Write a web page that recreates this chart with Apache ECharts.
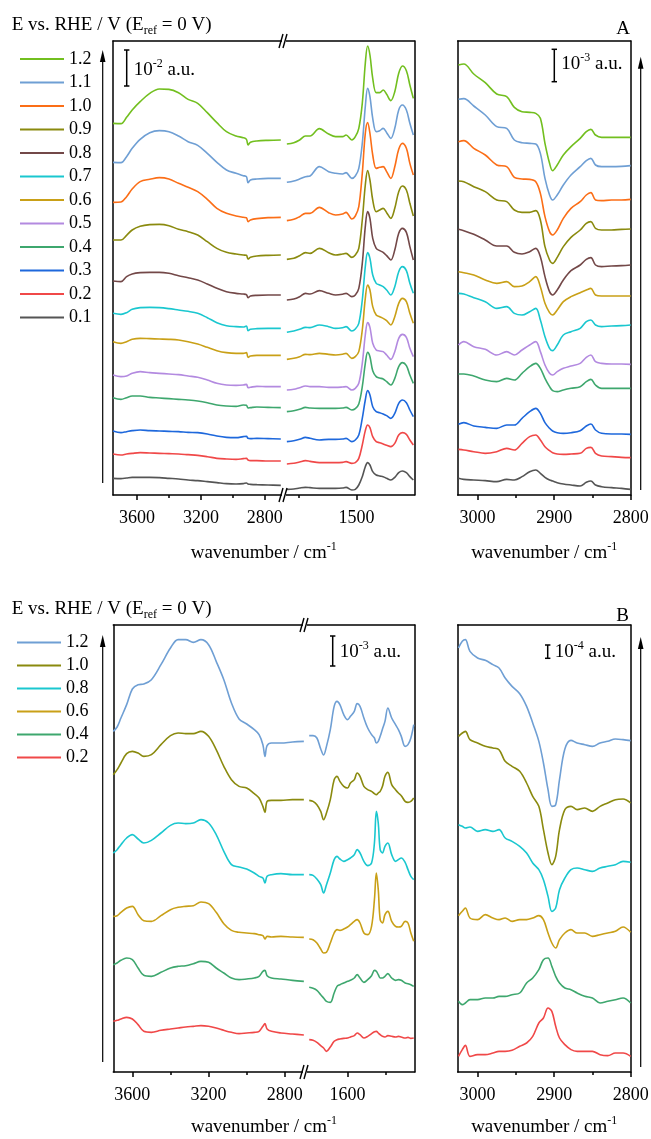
<!DOCTYPE html>
<html>
<head>
<meta charset="utf-8">
<script src="https://cdn.jsdelivr.net/npm/echarts@6/dist/echarts.min.js"></script>
<style>
  html, body { margin: 0; padding: 0; background: #fff; }
  #chart { width: 651px; height: 1139px; }
</style>
</head>
<body>
<div id="chart"></div>
<script>
// ---- panel A : potentials 0.1 ... 1.2 V ----
const potentialsA = ["1.2", "1.1", "1.0", "0.9", "0.8", "0.7", "0.6", "0.5", "0.4", "0.3", "0.2", "0.1"];

// wavenumbers (cm-1) of the read points, high-frequency part of the broken axis
const wnA_hi = [3750, 3700, 3665, 3630, 3580, 3520, 3460, 3400, 3340, 3280, 3220, 3160, 3100, 3040, 2980, 2935, 2915, 2905, 2890, 2850, 2780, 2700];
// offset absorbance (arb. units, stacked), one row per potential
const absA_hi = [
  [1115, 1114, 1133, 1155, 1180, 1205, 1218, 1217, 1207, 1187, 1175, 1147, 1117, 1090, 1077, 1072, 1067, 1050, 1058, 1062, 1064, 1065],
  [998, 997, 1015, 1040, 1067, 1087, 1093, 1090, 1077, 1060, 1049, 1025, 998, 975, 965, 958, 955, 937, 945, 948, 950, 950],
  [878, 879, 895, 918, 940, 947, 952, 948, 935, 923, 910, 887, 860, 845, 837, 833, 832, 820, 825, 829, 832, 833],
  [765, 765, 779, 795, 806, 811, 812, 808, 797, 790, 780, 760, 740, 728, 723, 720, 719, 708, 713, 717, 719, 720],
  [642, 640, 655, 663, 667, 668, 668, 665, 658, 652, 645, 633, 620, 610, 605, 603, 601, 592, 597, 599, 600, 600],
  [545, 542, 547, 557, 562, 563, 562, 559, 555, 551, 545, 532, 517, 508, 505, 504, 507, 493, 497, 499, 500, 500],
  [460, 455, 460, 467, 470, 469, 468, 467, 465, 460, 453, 443, 433, 427, 425, 425, 427, 413, 417, 419, 419, 419],
  [360, 355, 357, 365, 370, 367, 365, 363, 361, 357, 353, 345, 335, 330, 329, 330, 332, 322, 323, 326, 325, 325],
  [292, 287, 292, 297, 297, 293, 291, 289, 287, 285, 282, 277, 270, 267, 266, 270, 269, 261, 262, 264, 263, 262],
  [192, 187, 190, 193, 195, 193, 192, 191, 190, 188, 187, 183, 177, 173, 172, 175, 176, 170, 169, 170, 169, 168],
  [123, 120, 123, 125, 127, 126, 125, 124, 123, 121, 119, 115, 110, 108, 107, 109, 110, 105, 103, 103, 102, 102],
  [50, 49, 51, 53, 53, 53, 52, 50, 48, 45, 43, 40, 37, 34, 33, 34, 36, 33, 32, 31, 30, 29]
];

// low-frequency part of the broken axis
const wnA_lo = [1800, 1770, 1745, 1720, 1700, 1660, 1620, 1590, 1560, 1545, 1520, 1505, 1490, 1475, 1462, 1452, 1442, 1430, 1415, 1400, 1385, 1370, 1352, 1335, 1318, 1302, 1285, 1270, 1255];
const absA_lo = [
  [1053, 1057, 1065, 1077, 1077, 1099, 1083, 1075, 1075, 1080, 1065, 1075, 1100, 1175, 1295, 1347, 1320, 1250, 1207, 1207, 1215, 1202, 1183, 1210, 1265, 1287, 1273, 1230, 1190],
  [938, 942, 948, 955, 957, 985, 970, 965, 963, 967, 950, 957, 980, 1055, 1165, 1220, 1195, 1130, 1090, 1093, 1100, 1087, 1070, 1100, 1155, 1170, 1155, 1115, 1080],
  [823, 827, 835, 845, 845, 863, 847, 840, 843, 848, 828, 837, 865, 965, 1085, 1117, 1085, 1020, 980, 983, 985, 970, 950, 985, 1037, 1055, 1040, 995, 960],
  [707, 710, 718, 727, 725, 740, 727, 720, 723, 725, 713, 720, 740, 825, 930, 973, 945, 885, 850, 855, 860, 847, 830, 860, 910, 927, 915, 875, 837],
  [585, 588, 595, 605, 603, 613, 605, 600, 602, 605, 595, 600, 620, 695, 805, 850, 830, 770, 740, 733, 728, 718, 705, 735, 785, 800, 788, 745, 705],
  [488, 492, 497, 503, 502, 510, 505, 500, 502, 505, 492, 498, 515, 585, 685, 727, 710, 660, 635, 630, 625, 615, 600, 625, 670, 685, 673, 635, 605],
  [407, 410, 415, 422, 421, 425, 422, 420, 422, 425, 410, 415, 430, 495, 590, 630, 615, 565, 540, 535, 530, 523, 510, 535, 575, 590, 580, 545, 515],
  [315, 317, 322, 327, 325, 325, 323, 323, 324, 325, 315, 320, 335, 395, 480, 517, 503, 455, 435, 432, 430, 420, 407, 430, 470, 482, 473, 440, 415],
  [250, 253, 257, 263, 261, 260, 260, 260, 261, 263, 255, 259, 273, 325, 395, 428, 415, 373, 355, 351, 348, 340, 330, 350, 385, 397, 388, 360, 335],
  [160, 163, 167, 173, 170, 165, 167, 167, 168, 170, 160, 165, 180, 230, 285, 313, 300, 265, 250, 247, 243, 238, 230, 245, 275, 285, 277, 255, 235],
  [93, 95, 99, 103, 101, 97, 97, 97, 98, 100, 95, 97, 110, 150, 193, 210, 202, 175, 160, 157, 153, 149, 145, 155, 180, 187, 182, 165, 150],
  [17, 18, 21, 23, 22, 20, 20, 20, 21, 23, 15, 17, 30, 55, 85, 97, 90, 70, 60, 57, 55, 50, 45, 53, 67, 72, 67, 55, 45]
];

// C-H stretching region, enlarged
const wnA_ch = [3025, 3018, 3005, 2990, 2975, 2962, 2952, 2942, 2932, 2924, 2918, 2912, 2906, 2902, 2896, 2888, 2878, 2866, 2858, 2852, 2846, 2838, 2825, 2812, 2800];
const absA_ch = [
  [1290, 1293, 1263, 1237, 1203, 1195, 1163, 1150, 1148, 1145, 1130, 1055, 995, 973, 990, 1020, 1045, 1070, 1090, 1097, 1080, 1073, 1073, 1073, 1073],
  [1187, 1189, 1167, 1140, 1105, 1100, 1065, 1057, 1055, 1053, 1025, 950, 900, 885, 900, 930, 960, 985, 1003, 1010, 990, 985, 985, 986, 988],
  [1060, 1063, 1040, 1020, 990, 985, 953, 948, 947, 940, 905, 835, 790, 780, 795, 830, 860, 880, 900, 907, 885, 883, 885, 885, 887],
  [942, 940, 925, 910, 885, 880, 855, 848, 848, 853, 825, 745, 705, 695, 713, 745, 773, 795, 815, 820, 800, 795, 795, 797, 798],
  [797, 793, 782, 765, 747, 747, 728, 723, 730, 740, 715, 655, 610, 600, 615, 645, 673, 690, 707, 712, 690, 685, 687, 688, 690],
  [605, 603, 592, 580, 560, 565, 545, 540, 550, 560, 525, 475, 440, 433, 450, 480, 490, 500, 520, 525, 510, 505, 507, 508, 510],
  [670, 667, 660, 645, 635, 640, 625, 627, 640, 655, 625, 575, 547, 540, 555, 580, 595, 607, 615, 620, 600, 597, 597, 597, 597],
  [450, 460, 445, 437, 420, 430, 420, 435, 450, 460, 430, 390, 365, 360, 370, 380, 387, 395, 413, 420, 400, 395, 393, 393, 392],
  [363, 363, 357, 345, 340, 350, 345, 365, 385, 395, 380, 350, 325, 313, 310, 315, 320, 325, 340, 347, 330, 320, 320, 320, 320],
  [212, 217, 207, 203, 200, 210, 210, 230, 250, 260, 245, 217, 200, 192, 187, 185, 187, 193, 207, 213, 195, 185, 183, 183, 182],
  [137, 135, 130, 125, 130, 140, 135, 155, 175, 180, 165, 145, 133, 127, 123, 122, 123, 125, 140, 143, 125, 117, 115, 113, 112],
  [50, 47, 45, 43, 40, 47, 45, 55, 70, 75, 65, 53, 45, 42, 37, 33, 30, 27, 38, 42, 30, 25, 22, 20, 17]
];

// ---- panel B : potentials 0.2 ... 1.2 V ----
const potentialsB = ["1.2", "1.0", "0.8", "0.6", "0.4", "0.2"];

const wnB_hi = [3700, 3680, 3660, 3630, 3600, 3570, 3540, 3500, 3450, 3400, 3360, 3320, 3280, 3240, 3200, 3160, 3120, 3080, 3040, 3000, 2960, 2935, 2915, 2904, 2893, 2870, 2820, 2760, 2700];
const absB_hi = [
  [1022, 1035, 1062, 1102, 1149, 1162, 1164, 1177, 1222, 1272, 1297, 1297, 1289, 1297, 1282, 1232, 1177, 1107, 1059, 1044, 1027, 1012, 982, 947, 979, 987, 987, 990, 992],
  [892, 907, 927, 955, 962, 957, 947, 952, 982, 1009, 1017, 1015, 1015, 1022, 1007, 967, 917, 877, 857, 852, 835, 822, 797, 779, 812, 815, 815, 817, 817],
  [657, 667, 682, 702, 712, 699, 687, 695, 717, 740, 747, 745, 747, 757, 747, 712, 662, 622, 615, 609, 597, 587, 582, 567, 587, 592, 595, 592, 592],
  [467, 469, 479, 492, 497, 472, 454, 452, 469, 487, 494, 497, 499, 510, 505, 479, 445, 425, 419, 417, 415, 412, 409, 399, 407, 405, 407, 405, 404],
  [322, 327, 335, 342, 337, 312, 290, 287, 299, 312, 317, 319, 325, 332, 329, 312, 297, 282, 277, 279, 282, 287, 302, 305, 289, 282, 279, 275, 272],
  [152, 155, 159, 164, 159, 142, 122, 119, 125, 129, 132, 135, 137, 139, 137, 132, 125, 119, 115, 117, 119, 122, 137, 145, 129, 122, 117, 114, 111]
];

const wnB_lo = [1800, 1780, 1760, 1740, 1725, 1710, 1690, 1670, 1655, 1640, 1620, 1600, 1585, 1565, 1550, 1535, 1515, 1495, 1475, 1460, 1450, 1440, 1430, 1418, 1405, 1390, 1370, 1350, 1335, 1320, 1300, 1285, 1270, 1255];
const absB_lo = [
  [1009, 1009, 1002, 969, 951, 977, 1027, 1097, 1112, 1102, 1072, 1057, 1067, 1082, 1105, 1097, 1062, 1032, 1012, 1002, 987, 992, 1007, 1029, 1052, 1092, 1062, 1042, 1027, 1007, 977, 982, 1002, 1042],
  [815, 812, 802, 782, 757, 777, 817, 877, 887, 872, 857, 852, 867, 877, 897, 887, 857, 847, 842, 835, 832, 837, 842, 857, 887, 899, 862, 847, 837, 829, 812, 809, 812, 822],
  [592, 590, 579, 562, 537, 562, 597, 637, 647, 639, 632, 637, 642, 652, 667, 657, 632, 619, 627, 687, 782, 747, 667, 657, 677, 687, 652, 632, 637, 642, 629, 607, 587, 577],
  [399, 397, 387, 369, 357, 359, 387, 417, 427, 425, 429, 435, 442, 452, 457, 447, 417, 412, 437, 517, 597, 547, 457, 447, 472, 482, 452, 437, 435, 437, 452, 447, 417, 392],
  [254, 251, 245, 232, 222, 212, 209, 237, 257, 262, 267, 272, 275, 282, 292, 282, 269, 277, 289, 305, 302, 292, 282, 282, 287, 295, 282, 275, 277, 275, 267, 265, 262, 257],
  [97, 95, 89, 79, 72, 62, 75, 92, 97, 99, 101, 102, 105, 109, 117, 112, 102, 107, 115, 121, 122, 117, 112, 107, 105, 109, 107, 105, 107, 105, 102, 104, 101, 102]
];

const wnB_ch = [3025, 3020, 3016, 3010, 3000, 2990, 2980, 2972, 2964, 2955, 2945, 2936, 2928, 2920, 2914, 2908, 2903, 2898, 2893, 2886, 2878, 2870, 2860, 2850, 2840, 2830, 2820, 2810, 2800];
const absB_ch = [
  [1272, 1292, 1297, 1262, 1242, 1235, 1222, 1212, 1182, 1157, 1135, 1097, 1047, 992, 927, 847, 797, 802, 877, 969, 995, 987, 982, 977, 987, 992, 999, 997, 994],
  [1007, 1017, 1022, 997, 987, 977, 972, 967, 932, 917, 902, 867, 827, 797, 727, 657, 622, 647, 727, 787, 797, 787, 792, 782, 797, 807, 817, 819, 807],
  [742, 737, 732, 735, 722, 727, 722, 727, 702, 692, 677, 657, 627, 607, 577, 527, 482, 492, 547, 582, 607, 612, 607, 602, 612, 617, 622, 632, 629],
  [469, 482, 492, 462, 457, 472, 462, 457, 462, 452, 457, 457, 462, 469, 457, 417, 387, 372, 397, 417, 427, 417, 417, 407, 412, 417, 422, 435, 419],
  [212, 202, 207, 217, 217, 222, 222, 227, 227, 232, 237, 267, 282, 307, 337, 342, 317, 287, 267, 252, 247, 237, 227, 222, 207, 212, 217, 222, 207],
  [47, 67, 80, 47, 52, 52, 57, 62, 62, 65, 77, 87, 107, 147, 162, 192, 182, 137, 102, 82, 67, 62, 62, 62, 52, 49, 57, 57, 47]
];

// tick values
const ticksHi = [3600, 3200, 2800];
const minorHi = [3400, 3000];
const ticksCh = [3000, 2900, 2800];
const minorCh = [2950, 2850];

// ---- styles / layout ----
const colorsA = ["#72bf1f", "#6f9fd4", "#fb6e17", "#8a8a0e", "#734848", "#1ac7cf", "#c9a017", "#b38ae0", "#3ea76e", "#1e68dc", "#f04848", "#555555"];
const colorsB = ["#6f9fd4", "#8a8a0e", "#1ac7cf", "#c9a017", "#3ea76e", "#f04848"];
const FONT = "Liberation Serif";
const frame = { color: "#000", width: 1.5 };

const topA = 41, hA = 454, topB = 625, hB = 447;
const boxA_hi = [113, topA, 171, hA];
const boxA_lo = [285, topA, 129.5, hA];
const boxA_ch = [457.7, topA, 173, hA];
const boxB_hi = [113.3, topB, 191.7, hB];
const boxB_lo = [305, topB, 109.7, hB];
const boxB_ch = [457.7, topB, 173, hB];

const grids = [], xAxes = [], yAxes = [], series = [];

function addPlot(box, xr, ymax, major, minor, sides) {
  const gi = grids.length;
  grids.push({ left: box[0], top: box[1], width: box[2], height: box[3], outerBoundsMode: "none" });
  const base = { gridIndex: gi, type: "value", min: xr[0], max: xr[1], inverse: true, splitLine: { show: false } };
  const xi = xAxes.length;
  xAxes.push(Object.assign({}, base, {
    position: "bottom",
    axisLine: { show: true, onZero: false, lineStyle: frame },
    axisTick: { show: true, customValues: major, length: 5, lineStyle: frame },
    axisLabel: { show: true, customValues: major, margin: 14, fontFamily: FONT, fontSize: 18, color: "#000",
      formatter: function(v) { return String(v); } }
  }));
  xAxes.push(Object.assign({}, base, {
    position: "bottom",
    axisLine: { show: false },
    axisTick: { show: true, customValues: minor, length: 3, lineStyle: frame },
    axisLabel: { show: false }
  }));
  xAxes.push(Object.assign({}, base, {
    position: "top",
    axisLine: { show: true, onZero: false, lineStyle: frame },
    axisTick: { show: false },
    axisLabel: { show: false }
  }));
  const yi = yAxes.length;
  ["left", "right"].forEach(function(pos) {
    yAxes.push({
      gridIndex: gi, type: "value", min: 0, max: ymax, position: pos,
      axisLine: { show: sides[pos], onZero: false, lineStyle: frame },
      axisTick: { show: false }, axisLabel: { show: false }, splitLine: { show: false }
    });
  });
  return { xi: xi, yi: yi };
}

function addSpectra(ax, names, colors, wn, rows) {
  rows.forEach(function(vals, k) {
    series.push({
      name: names[k], type: "line", xAxisIndex: ax.xi, yAxisIndex: ax.yi,
      data: wn.map(function(w, i) { return [w, vals[i]]; }),
      symbol: "none", smooth: 0.35, silent: true,
      lineStyle: { color: colors[k], width: 1.6 }, itemStyle: { color: colors[k] }
    });
  });
}

const namesB = potentialsB.map(function(p) { return "B" + p; });

addSpectra(addPlot(boxA_hi, [2680, 3750], hA * 3, ticksHi, minorHi, { left: true, right: false }), potentialsA, colorsA, wnA_hi, absA_hi);
addSpectra(addPlot(boxA_lo, [1250, 1808], hA * 3, [1500], [1750], { left: false, right: true }), potentialsA, colorsA, wnA_lo, absA_lo);
addSpectra(addPlot(boxA_ch, [2800, 3026], hA * 3, ticksCh, minorCh, { left: true, right: true }), potentialsA, colorsA, wnA_ch, absA_ch);
addSpectra(addPlot(boxB_hi, [2694, 3700], hB * 3, ticksHi, minorHi, { left: true, right: false }), namesB, colorsB, wnB_hi, absB_hi);
addSpectra(addPlot(boxB_lo, [1250, 1822], hB * 3, [1600], [1400], { left: false, right: true }), namesB, colorsB, wnB_lo, absB_lo);
addSpectra(addPlot(boxB_ch, [2800, 3026], hB * 3, ticksCh, minorCh, { left: true, right: true }), namesB, colorsB, wnB_ch, absB_ch);

// ---- decorations ----
const rich = {
  t: { fontFamily: FONT, fontSize: 19, fill: "#000", lineHeight: 24 },
  sup: { fontFamily: FONT, fontSize: 12, fill: "#000", lineHeight: 24, verticalAlign: "top" },
  sub: { fontFamily: FONT, fontSize: 12, fill: "#000", lineHeight: 24, verticalAlign: "bottom" }
};

function text(x, y, str, align) {
  return { type: "text", x: x, y: y, z: 60, silent: true,
    style: { text: str, rich: rich, fontFamily: FONT, fontSize: 19, fill: "#000", align: align || "left", verticalAlign: "middle" } };
}

function arrow(x, yBottom, yTip) {
  return [
    { type: "line", z: 60, silent: true, shape: { x1: x, y1: yBottom, x2: x, y2: yTip + 6 }, style: { stroke: "#000", lineWidth: 1.2 } },
    { type: "polygon", z: 60, silent: true, shape: { points: [[x, yTip], [x - 2.8, yTip + 12], [x + 2.8, yTip + 12]] }, style: { fill: "#000" } }
  ];
}

function breakMark(x, y) {
  return [
    { type: "rect", z: 60, silent: true, shape: { x: x - 2, y: y - 2, width: 4, height: 4 }, style: { fill: "#fff" } },
    { type: "line", z: 61, silent: true, shape: { x1: x - 5, y1: y + 7, x2: x - 1, y2: y - 7 }, style: { stroke: "#000", lineWidth: 1.4 } },
    { type: "line", z: 61, silent: true, shape: { x1: x - 1, y1: y + 7, x2: x + 3, y2: y - 7 }, style: { stroke: "#000", lineWidth: 1.4 } }
  ];
}

function scaleBar(x, y1, y2, exp, ty) {
  return [
    { type: "line", z: 60, silent: true, shape: { x1: x, y1: y1, x2: x, y2: y2 }, style: { stroke: "#000", lineWidth: 1.5 } },
    { type: "line", z: 60, silent: true, shape: { x1: x - 2.7, y1: y1, x2: x + 2.7, y2: y1 }, style: { stroke: "#000", lineWidth: 1.5 } },
    { type: "line", z: 60, silent: true, shape: { x1: x - 2.7, y1: y2, x2: x + 2.7, y2: y2 }, style: { stroke: "#000", lineWidth: 1.5 } },
    text(x + 7, ty, "{t|10}{sup|" + exp + "}{t| a.u.}")
  ];
}

const axisTitle = "{t|wavenumber / cm}{sup|-1}";
const eTitle = "{t|E vs. RHE / V (E}{sub|ref}{t| = 0 V)}";
const breakA = boxA_hi[0] + boxA_hi[2];
const breakB = boxB_hi[0] + boxB_hi[2];
const midA = (boxA_hi[0] + boxA_lo[0] + boxA_lo[2]) / 2;
const midB = (boxB_hi[0] + boxB_lo[0] + boxB_lo[2]) / 2;
const midCh = boxA_ch[0] + boxA_ch[2] / 2;

const graphic = [].concat(
  text(11.7, 25, eTitle),
  text(11.7, 609, eTitle),
  text(623, 29, "{t|A}", "center"),
  text(622.5, 616, "{t|B}", "center"),
  text(midA, topA + hA + 58, axisTitle, "center"),
  text(midCh, topA + hA + 58, axisTitle, "center"),
  text(midB, topB + hB + 55, axisTitle, "center"),
  text(midCh, topB + hB + 55, axisTitle, "center"),
  arrow(102.7, 483, 50),
  arrow(640.7, 490, 56.7),
  arrow(102.7, 1062, 635),
  arrow(640.7, 1067, 637),
  breakMark(breakA, topA),
  breakMark(breakA, topA + hA),
  breakMark(breakB, topB),
  breakMark(breakB, topB + hB),
  scaleBar(126.7, 50, 86, "-2", 70),
  scaleBar(554.3, 49.3, 81.7, "-3", 64),
  scaleBar(332.7, 636, 666, "-3", 652),
  scaleBar(547.7, 645, 658.3, "-4", 652)
);

const legendBase = {
  orient: "vertical", itemWidth: 44, itemHeight: 14, padding: 0, selectedMode: false,
  itemStyle: { opacity: 0 },
  textStyle: { fontFamily: FONT, fontSize: 18, color: "#000", padding: [2, 0, 0, 0] }
};

const chart = echarts.init(document.getElementById("chart"));
chart.setOption({
  animation: false,
  backgroundColor: "#fff",
  legend: [
    Object.assign({}, legendBase, { left: 19, top: 50, itemGap: 5.5, data: potentialsA }),
    Object.assign({}, legendBase, { left: 16, top: 633.5, itemGap: 5, data: namesB,
      formatter: function(n) { return n.slice(1); } })
  ],
  grid: grids,
  xAxis: xAxes,
  yAxis: yAxes,
  series: series,
  graphic: graphic
});
</script>
</body>
</html>
